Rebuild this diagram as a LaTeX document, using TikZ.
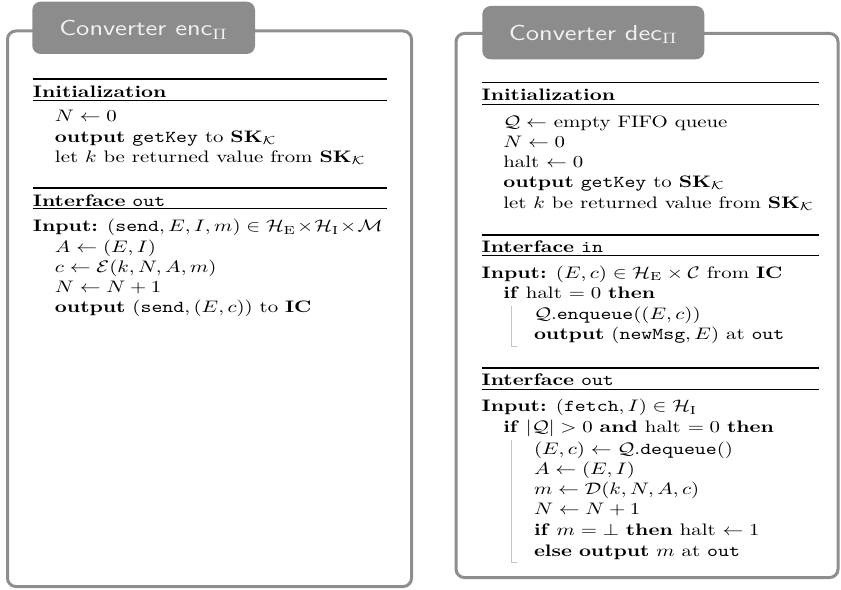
\documentclass[tikz,border=0pt]{standalone}
\usepackage{amsmath,amssymb}
\usepackage{graphicx}
\definecolor{framegray}{RGB}{142,142,142}
\definecolor{tabgray}{RGB}{140,140,140}
\definecolor{titlewhite}{RGB}{242,242,242}
\definecolor{bargray}{RGB}{195,195,195}
% text is set a quarter wider than its natural width
\newcommand\wide[1]{\scalebox{1.25}[1]{#1}}
\newcommand\SKK{\mathbf{SK}_{\mathcal{K}}}
\begin{document}
\begin{tikzpicture}[x=0.6pt,y=-0.6pt,
  frame/.style={draw=framegray,line width=1.8pt,rounded corners=5pt},
  tab/.style={fill=tabgray,rounded corners=5pt},
  ttl/.style={text=titlewhite,font=\sffamily\fontsize{13}{15}\selectfont,anchor=base,inner sep=0pt},
  ln/.style={anchor=base west,inner sep=0pt,outer sep=0pt},
  thickrule/.style={line width=1.1pt},
  thinrule/.style={line width=0.5pt},
  bar/.style={draw=bargray,line width=0.5pt}]
\useasboundingbox (0,0) rectangle (841,590);

% ---------- converter enc ----------
\draw[frame] (7.5,31) rectangle (411.5,586.5);
\fill[tab] (32.3,1.7) rectangle (255,54);
\node[ttl] (encT) at (143.6,36) {\wide{Converter enc$_{\Pi}$}};

\draw[thickrule] (32.5,79.3) -- (387,79.3);
\node[ln] (e1) at (33,97.5) {\wide{\textbf{Initialization}}};
\draw[thinrule] (32.5,100.3) -- (387,100.3);
\node[ln] (e2) at (55,122) {\wide{$N \leftarrow 0$}};
\node[ln] (e3) at (55,142) {\wide{\textbf{output} \texttt{getKey} to $\SKK$}};
\node[ln] (e4) at (55,162) {\wide{let $k$ be returned value from $\SKK$}};

\draw[thickrule] (32.5,187.7) -- (387,187.7);
\node[ln] (e5) at (33,206) {\wide{\textbf{Interface} \texttt{out}}};
\draw[thinrule] (32.5,208.7) -- (387,208.7);
\node[ln] (e6) at (33,231.7) {\wide{\textbf{Input:} $(\mathtt{send}, E, I, m) \in \mathcal{H}_{\mathrm{E}}\!\times\!\mathcal{H}_{\mathrm{I}}\!\times\!\mathcal{M}$}};
\node[ln] (e7) at (55,252) {\wide{$A \leftarrow (E, I)$}};
\node[ln] (e8) at (55,272) {\wide{$c \leftarrow \mathcal{E}(k, N, A, m)$}};
\node[ln] (e9) at (55,292.3) {\wide{$N \leftarrow N + 1$}};
\node[ln] (e10) at (55,312.5) {\wide{\textbf{output} $(\mathtt{send}, (E, c))$ to \textbf{IC}}};

% ---------- converter dec ----------
\draw[frame] (456,33.5) rectangle (838,577.5);
\fill[tab] (482.3,6) rectangle (704.3,59.3);
\node[ttl] (decT) at (593.3,40.5) {\wide{Converter dec$_{\Pi}$}};

\draw[thickrule] (481.7,82.5) -- (819,82.5);
\node[ln] (d1) at (481.7,101) {\wide{\textbf{Initialization}}};
\draw[thinrule] (481.7,104) -- (819,104);
\node[ln] (d2) at (503.3,127.5) {\wide{$\mathcal{Q} \leftarrow$ empty FIFO queue}};
\node[ln] (d3) at (503.3,147.5) {\wide{$N \leftarrow 0$}};
\node[ln] (d4) at (503.3,167.5) {\wide{halt $\leftarrow 0$}};
\node[ln] (d5) at (503.3,187.5) {\wide{\textbf{output} \texttt{getKey} to $\SKK$}};
\node[ln] (d6) at (503.3,208) {\wide{let $k$ be returned value from $\SKK$}};

\draw[thickrule] (481.7,235) -- (819,235);
\node[ln] (d7) at (481.7,252.3) {\wide{\textbf{Interface} \texttt{in}}};
\draw[thinrule] (481.7,255.5) -- (819,255.5);
\node[ln] (d8) at (481.7,278.3) {\wide{\textbf{Input:} $(E, c) \in \mathcal{H}_{\mathrm{E}} \times \mathcal{C}$ from \textbf{IC}}};
\node[ln] (d9) at (503.3,298.3) {\wide{\textbf{if} halt $= 0$ \textbf{then}}};
\node[ln] (d10) at (534,319) {\wide{$\mathcal{Q}.$\texttt{enqueue}$((E, c))$}};
\node[ln] (d11) at (534,339) {\wide{\textbf{output} $(\mathtt{newMsg}, E)$ at \texttt{out}}};
\draw[bar] (511,306) |- (517,346);

\draw[thickrule] (481.7,368.3) -- (819,368.3);
\node[ln] (d12) at (481.7,385.7) {\wide{\textbf{Interface} \texttt{out}}};
\draw[thinrule] (481.7,389) -- (819,389);
\node[ln] (d13) at (481.7,411.7) {\wide{\textbf{Input:} $(\mathtt{fetch}, I) \in \mathcal{H}_{\mathrm{I}}$}};
\node[ln] (d14) at (503.3,432.3) {\wide{\textbf{if} $|\mathcal{Q}| > 0$ \textbf{and} halt $= 0$ \textbf{then}}};
\node[ln] (d15) at (534,454) {\wide{$(E, c) \leftarrow \mathcal{Q}.$\texttt{dequeue}$()$}};
\node[ln] (d16) at (534,474) {\wide{$A \leftarrow (E, I)$}};
\node[ln] (d17) at (534,494.3) {\wide{$m \leftarrow \mathcal{D}(k, N, A, c)$}};
\node[ln] (d18) at (534,514.3) {\wide{$N \leftarrow N + 1$}};
\node[ln] (d19) at (534,535) {\wide{\textbf{if} $m = \bot$ \textbf{then} halt $\leftarrow 1$}};
\node[ln] (d20) at (534,556) {\wide{\textbf{else} \textbf{output} $m$ at \texttt{out}}};
\draw[bar] (511,440) |- (517,562);
\end{tikzpicture}
\end{document}
